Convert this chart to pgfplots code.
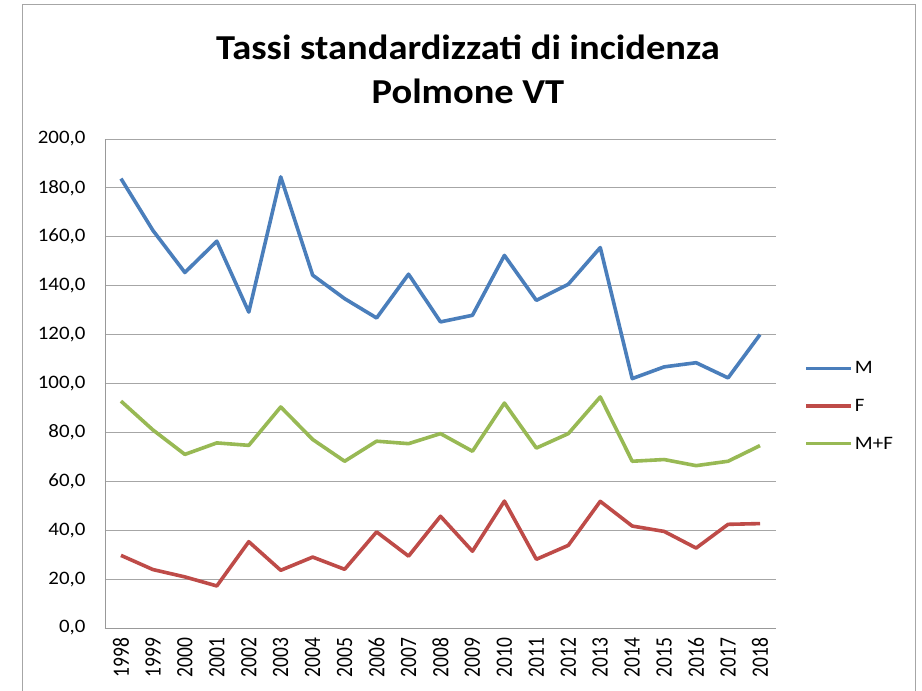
\documentclass[border=0pt]{standalone}
\usepackage{pgfplots}
\pgfplotsset{compat=1.18}
\usepackage{fontspec}
\setmainfont{Carlito}[FakeStretch=1.1]
\newfontfamily\yearfont{Carlito}
\definecolor{cM}{HTML}{4A7EBB}
\definecolor{cF}{HTML}{BE4B48}
\definecolor{cMF}{HTML}{98B954}
\begin{document}
\begin{tikzpicture}[x=1pt,y=1pt]
\useasboundingbox (0,0) rectangle (922,691);
\fill[white] (0,0) rectangle (922,691);
\draw[gray!70, line width=1pt] (22,-5) -- (22,686) -- (915,686) -- (915,-5);
\node[align=center, font=\fontsize{35}{44}\selectfont\bfseries] at (468,622) {Tassi standardizzati di incidenza\\Polmone VT};
\begin{axis}[
  at={(105pt,63pt)}, anchor=south west,
  width=671pt, height=489pt, scale only axis,
  xmin=1997.5, xmax=2018.5, ymin=0, ymax=200,
  ytick={0,20,...,200},
  xtick={1998,...,2018},
  xticklabel={\scalebox{1}[1.2]{\yearfont\pgfmathprintnumber[fixed,precision=0,1000 sep={}]{\tick}}\hspace*{6pt}},
  x tick label style={rotate=90, anchor=east, font=\fontsize{19.5}{19.5}\selectfont},
  y tick label style={xshift=-16pt, font=\fontsize{19}{19}\selectfont, /pgf/number format/.cd, fixed, fixed zerofill, precision=1, use comma},
  /pgf/number format/assume math mode=true,
  axis x line*=bottom, axis y line*=left,
  axis line style={gray!80, line width=0.9pt},
  ymajorgrids, grid style={gray!70, line width=0.9pt},
  major tick length=0pt,
  xtick style={draw=none},
  ytick style={draw=none},
  legend style={draw=none, fill=none, at={(1.042,0.454)}, anchor=west, font=\fontsize{19}{19}\selectfont, row sep=20pt, inner sep=0pt},
  legend cell align=left,
  legend image code/.code={\draw[#1, line width=3.6pt] (0pt,0pt) -- (45pt,0pt);},
]
\addplot[cM, line width=3.6pt, line join=round] coordinates {
(1998,183.8) (1999,162.6) (2000,145.4) (2001,158.2) (2002,129.2) (2003,184.5) (2004,144.3) (2005,134.7) (2006,126.8) (2007,144.7) (2008,125.2) (2009,127.9) (2010,152.4) (2011,134.0) (2012,140.6) (2013,155.6) (2014,102.0) (2015,106.8) (2016,108.5) (2017,102.3) (2018,120.0)};
\addlegendentry{M}
\addplot[cF, line width=3.6pt, line join=round] coordinates {
(1998,29.7) (1999,23.9) (2000,20.9) (2001,17.2) (2002,35.3) (2003,23.6) (2004,29.0) (2005,24.0) (2006,39.3) (2007,29.4) (2008,45.7) (2009,31.4) (2010,51.9) (2011,28.1) (2012,33.8) (2013,51.8) (2014,41.7) (2015,39.5) (2016,32.7) (2017,42.4) (2018,42.7)};
\addlegendentry{F}
\addplot[cMF, line width=3.6pt, line join=round] coordinates {
(1998,92.8) (1999,81.0) (2000,71.0) (2001,75.7) (2002,74.7) (2003,90.4) (2004,77.1) (2005,68.2) (2006,76.4) (2007,75.4) (2008,79.5) (2009,72.3) (2010,92.0) (2011,73.6) (2012,79.5) (2013,94.5) (2014,68.2) (2015,68.9) (2016,66.4) (2017,68.2) (2018,74.6)};
\addlegendentry{M+F}
\end{axis}
\end{tikzpicture}
\end{document}
